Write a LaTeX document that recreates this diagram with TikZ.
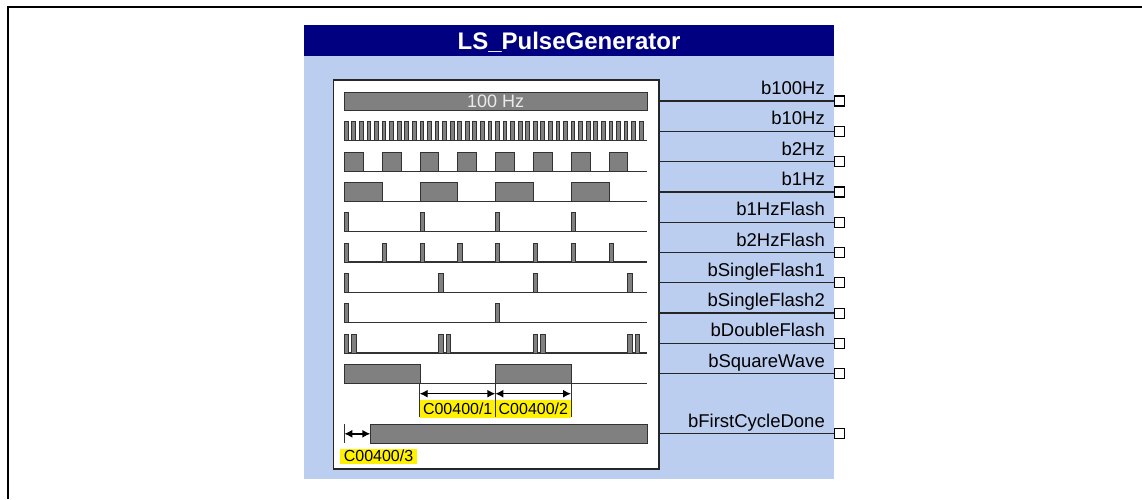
\documentclass[tikz,border=0pt]{standalone}
\usepackage{fontspec}
\setmainfont{Liberation Sans}
\usetikzlibrary{arrows.meta,positioning}
\definecolor{fbblue}{RGB}{188,206,240}
\definecolor{fbnavy}{RGB}{0,0,128}
\definecolor{sigfill}{RGB}{128,128,128}
\definecolor{sigline}{RGB}{50,50,50}
\tikzstyle{block}=[rectangle,fill=fbblue,inner sep=0pt,minimum width=530pt,minimum height=423pt]
\tikzstyle{titlebar}=[rectangle,fill=fbnavy,text=white,inner sep=0pt,text depth=0pt,minimum width=530pt,minimum height=31pt,font=\fontsize{24}{28}\selectfont\bfseries]
\tikzstyle{panel}=[rectangle,draw=black!85,line width=1.6pt,fill=white,inner sep=0pt,minimum width=325.7pt,minimum height=389.4pt]
\tikzstyle{outport}=[rectangle,draw=black,line width=1.2pt,fill=white,inner sep=0pt,minimum size=10pt]
\tikzstyle{outlbl}=[anchor=base east,inner sep=0pt,font=\fontsize{18.5}{22}\selectfont]
\tikzstyle{sigpulse}=[draw=sigline,fill=sigfill,line width=0.8pt]
\tikzstyle{sigbase}=[draw=sigline,line width=1.2pt]
\tikzstyle{wire}=[draw=black!85,line width=1.3pt]
\tikzstyle{dimtick}=[draw=sigline,line width=0.8pt]
\tikzstyle{dimarr}=[{Latex[length=8pt,width=8pt]}-{Latex[length=8pt,width=8pt]},line width=1.4pt]
\tikzstyle{param}=[fill=yellow,inner sep=0pt,anchor=north west,font=\fontsize{16}{19}\selectfont]

\begin{document}
\begin{tikzpicture}[x=1pt,y=-1pt]
\useasboundingbox (0,0) rectangle (1142,499);
\draw[line width=2pt] (7.8,499) -- (7.8,6.8) -- (1142,6.8);
\node[block] (fb) at (569,267.5) {};
\node[titlebar] (fbtitle) at (569,40.5) {LS\_PulseGenerator};
\node[panel] (sig) at (496.35,274.5) {};
\foreach \lbl [count=\i from 0] in {b100Hz,b10Hz,b2Hz,b1Hz,b1HzFlash,b2HzFlash,bSingleFlash1,bSingleFlash2,bDoubleFlash,bSquareWave}{
  \node[outport] (p\i) at (839.7,{101+30.3*\i}) {};
  \draw[wire] (sig.east |- p\i) -- (p\i.west);
  \node[outlbl] (l\i) at (825,{94.5+30.3*\i}) {\lbl};
}
\node[outport] (p10) at (839.7,433.5) {};
\draw[wire] (sig.east |- p10) -- (p10.west);
\node[outlbl] (l10) at (825,427) {bFirstCycleDone};
\node[sigpulse,inner sep=0pt,minimum width=302.9pt,minimum height=18.2pt,text=black!8,font=\fontsize{18}{21}\selectfont] (bar100) at (495.65,101.2) {100 Hz};
\draw[sigbase] (344.3,140.8) -- (647,140.8);
\foreach \k in {0,...,39} \draw[sigpulse] ({344.3+7.56*\k},121.8) rectangle ++(3.78,19);
\draw[sigbase] (344.3,171.1) -- (647,171.1);
\foreach \k in {0,...,7} \draw[sigpulse] ({344.3+37.8*\k},152.1) rectangle ++(18.9,19);
\draw[sigbase] (344.3,201.4) -- (647,201.4);
\foreach \k in {0,...,3} \draw[sigpulse] ({344.3+75.6*\k},182.4) rectangle ++(37.8,19);
\draw[sigbase] (344.3,231.7) -- (647,231.7);
\foreach \k in {0,...,3} \draw[sigpulse] ({344.3+75.6*\k},212.7) rectangle ++(4.2,19);
\draw[sigbase] (344.3,262) -- (647,262);
\foreach \k in {0,...,7} \draw[sigpulse] ({344.3+37.8*\k},243) rectangle ++(4.2,19);
\draw[sigbase] (344.3,292.3) -- (647,292.3);
\foreach \k in {0,...,3} \draw[sigpulse] ({344.3+94.5*\k},273.3) rectangle ++(4.2,19);
\draw[sigbase] (344.3,322.6) -- (647,322.6);
\foreach \k in {0,1} \draw[sigpulse] ({344.3+151.2*\k},303.6) rectangle ++(4.2,19);
\draw[sigbase] (344.3,352.9) -- (647,352.9);
\foreach \k in {0,...,3} {
  \draw[sigpulse] ({344.3+94.5*\k},333.9) rectangle ++(4.2,19);
  \draw[sigpulse] ({351.7+94.5*\k},333.9) rectangle ++(4.2,19);
}
\draw[sigbase] (344.3,383.2) -- (647,383.2);
\foreach \k in {0,1} \draw[sigpulse] ({344.3+151.2*\k},364.2) rectangle ++(75.6,19);
\node[param,minimum width=75.6pt,minimum height=17.3pt] (c1) at (419.7,400) {C00400/1};
\node[param,minimum width=75.7pt,minimum height=17.3pt] (c2) at (495.3,400) {C00400/2};
\foreach \x in {419.7,495.3,571} \draw[dimtick] (\x,383.2) -- (\x,417.3);
\coordinate (t1) at (419.7,393.7);
\coordinate (t2) at (495.3,393.7);
\coordinate (t3) at (571,393.7);
\draw[dimarr] (t1) -- (t2);
\draw[dimarr] (t2) -- (t3);
\draw[sigpulse] (370.3,424.3) rectangle (647,443.3);
\draw[dimtick] (344.3,424.3) -- (344.3,443.3);
\coordinate (t4) at (344.3,433.8);
\coordinate (t5) at (370.3,433.8);
\draw[dimarr] (t4) -- (t5);
\node[param,minimum width=76.7pt,minimum height=15pt] (c3) at (340,448.3) {C00400/3};
\end{tikzpicture}
\end{document}
